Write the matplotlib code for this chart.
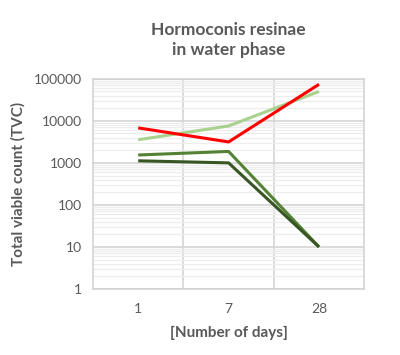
import matplotlib.pyplot as plt
import numpy as np
from matplotlib.ticker import LogLocator, FixedLocator, NullFormatter

plt.rcParams['font.family'] = ['Lato', 'DejaVu Sans']

# Data
days = ['1', '7', '28']
red = [6800, 3150, 74000]
light_green = [3550, 7550, 50000]
mid_green = [1540, 1870, 10]
dark_green = [1120, 1000, 10]

grey = '#595959'

fig = plt.figure(figsize=(4.0, 3.55), dpi=100)
ax = fig.add_axes([0.2325, 0.186, 0.678, 0.592])

x = np.arange(len(days))
ax.plot(x, light_green, color='#A9D18E', lw=2.2, solid_capstyle='butt')
ax.plot(x, red, color='#FF0000', lw=2.2, solid_capstyle='butt')
ax.plot(x, mid_green, color='#548235', lw=2.2, solid_capstyle='butt')
ax.plot(x, dark_green, color='#375623', lw=2.2, solid_capstyle='butt')

ax.set_yscale('log')
ax.set_ylim(1, 100000)
ax.set_xlim(-0.5, 2.5)
ax.set_xticks(x)
ax.set_xticklabels(days)
ax.set_yticks([1, 10, 100, 1000, 10000, 100000])
ax.set_yticklabels(['1', '10', '100', '1000', '10000', '100000'])
ax.yaxis.set_minor_locator(LogLocator(base=10, subs=np.arange(2, 10)))
ax.yaxis.set_minor_formatter(NullFormatter())
ax.xaxis.set_minor_locator(FixedLocator([0.5, 1.5]))

ax.grid(which='major', axis='y', color='#D4D4D4', lw=1.2)
ax.grid(which='minor', axis='y', color='#EDEDED', lw=0.9)
ax.grid(which='minor', axis='x', color='#D4D4D4', lw=1.2)
ax.set_axisbelow(True)
ax.tick_params(which='both', length=0, colors=grey, labelsize=10, pad=8)
ax.tick_params(axis='x', pad=10)
for s in ax.spines.values():
    s.set_color('#D4D4D4')
    s.set_linewidth(1.2)

ax.set_title('Hormoconis resinae\nin water phase', fontsize=12.5, fontweight='bold',
             color=grey, pad=17, linespacing=1.3)
ax.set_ylabel('Total viable count (TVC)', fontsize=11, fontweight='bold', color=grey, labelpad=6)
ax.set_xlabel('[Number of days]', fontsize=11, fontweight='bold', color=grey, labelpad=8)

fig.savefig('out.png', dpi=100)
